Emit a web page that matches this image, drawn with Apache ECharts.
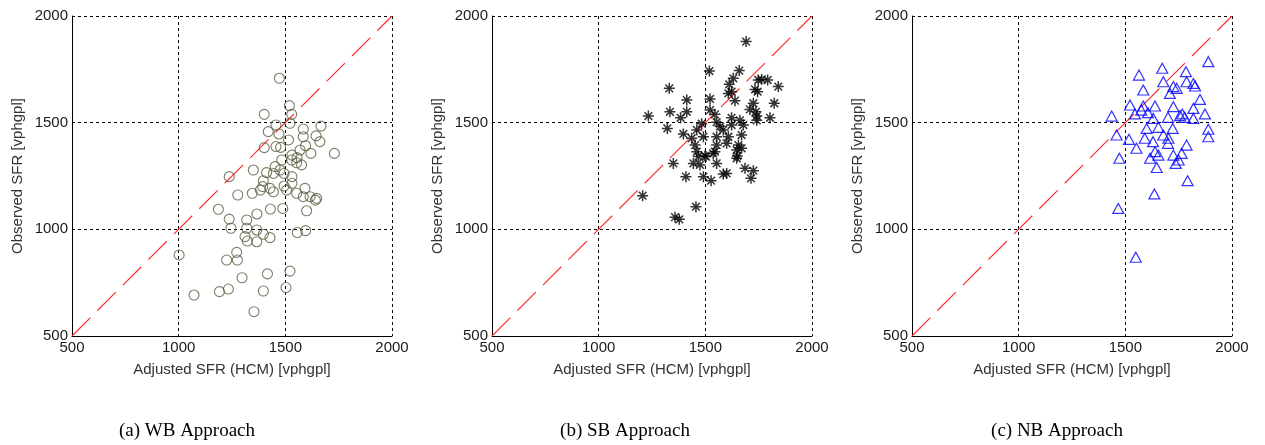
<!DOCTYPE html>
<html>
<head>
<meta charset="utf-8">
<script src="https://cdn.jsdelivr.net/npm/echarts@6/dist/echarts.min.js"></script>
<style>
  html, body { margin: 0; padding: 0; background: #fff; }
  #main { width: 1265px; height: 445px; }
</style>
</head>
<body>
<div id="main"></div>
<script>
// axis range and tick labels (same for all panels)
var axisMin = 500;
var axisMax = 2000;
var tickStep = 500;

// reference y = x line
var refLine = [[500, 500], [2000, 2000]];

var captions = ["(a) WB Approach", "(b) SB Approach", "(c) NB Approach"];

// (a) WB approach: [adjusted SFR, observed SFR]
var wbData = [
  [1472, 1708], [1519, 1580], [1401, 1539], [1530, 1539], [1522, 1497], [1456, 1489],
  [1667, 1484], [1584, 1470], [1420, 1458], [1644, 1438], [1470, 1447], [1515, 1419],
  [1662, 1411], [1401, 1383], [1456, 1388], [1478, 1384], [1584, 1434], [1595, 1392],
  [1569, 1372], [1620, 1356], [1730, 1356], [1531, 1348], [1555, 1336], [1530, 1325],
  [1553, 1312], [1483, 1325], [1576, 1302], [1452, 1294], [1350, 1278], [1475, 1278],
  [1412, 1266], [1444, 1262], [1494, 1262], [1531, 1247], [1237, 1247], [1397, 1228],
  [1531, 1216], [1394, 1200], [1428, 1192], [1494, 1203], [1592, 1192], [1345, 1169],
  [1383, 1184], [1444, 1176], [1506, 1184], [1553, 1169], [1616, 1153], [1277, 1161],
  [1647, 1145], [1584, 1153], [1641, 1137], [1186, 1094], [1237, 1048], [1245, 1005],
  [1319, 1044], [1367, 1072], [1430, 1095], [1488, 1098], [1600, 1087], [1319, 1005],
  [1366, 997], [1311, 966], [1322, 945], [1366, 942], [1397, 977], [1428, 961],
  [1556, 985], [1595, 994], [1002, 880], [1272, 892], [1225, 856], [1275, 856],
  [1522, 804], [1416, 791], [1297, 773], [1503, 727], [1233, 720], [1191, 708],
  [1397, 711], [1072, 692], [1353, 614]
];

// (b) SB approach
var sbData = [
  [1691, 1880], [1519, 1742], [1659, 1744], [1331, 1661], [1631, 1708], [1612, 1680],
  [1748, 1700], [1764, 1703], [1792, 1700], [1842, 1669], [1733, 1656], [1745, 1645],
  [1608, 1637], [1623, 1645], [1522, 1611], [1413, 1606], [1639, 1603], [1725, 1591],
  [1823, 1591], [1334, 1551], [1413, 1551], [1522, 1559], [1709, 1562], [1737, 1551],
  [1233, 1531], [1384, 1523], [1545, 1539], [1741, 1531], [1803, 1523], [1623, 1523],
  [1662, 1511], [1741, 1511], [1553, 1502], [1483, 1495], [1569, 1483], [1623, 1489],
  [1678, 1489], [1322, 1473], [1460, 1466], [1584, 1466], [1397, 1447], [1491, 1434],
  [1553, 1434], [1608, 1434], [1670, 1442], [1436, 1427], [1553, 1395], [1600, 1403],
  [1655, 1395], [1452, 1395], [1460, 1364], [1545, 1364], [1647, 1372], [1670, 1380],
  [1498, 1344], [1650, 1344], [1467, 1341], [1537, 1356], [1647, 1333], [1350, 1309],
  [1444, 1309], [1475, 1302], [1553, 1309], [1503, 1341], [1686, 1286], [1725, 1275],
  [1409, 1247], [1491, 1247], [1584, 1259], [1600, 1262], [1527, 1228], [1714, 1239],
  [1206, 1158], [1456, 1106], [1358, 1057], [1378, 1047]
];

// (c) NB approach
var nbData = [
  [1889, 1786], [1673, 1755], [1564, 1723], [1784, 1739], [1678, 1692], [1584, 1653],
  [1725, 1669], [1741, 1661], [1787, 1692], [1819, 1684], [1827, 1672], [1709, 1637],
  [1850, 1609], [1522, 1583], [1584, 1578], [1639, 1578], [1725, 1575], [1819, 1567],
  [1436, 1531], [1575, 1559], [1606, 1547], [1700, 1525], [1767, 1541], [1778, 1525],
  [1819, 1520], [1873, 1541], [1631, 1520], [1545, 1541], [1756, 1533], [1600, 1473],
  [1655, 1478], [1722, 1473], [1889, 1469], [1889, 1434], [1459, 1442], [1517, 1422],
  [1591, 1427], [1678, 1442], [1702, 1427], [1552, 1380], [1630, 1411], [1700, 1403],
  [1787, 1395], [1639, 1364], [1655, 1348], [1725, 1348], [1764, 1356], [1472, 1333],
  [1616, 1333], [1750, 1325], [1736, 1309], [1647, 1290], [1792, 1228], [1636, 1166],
  [1467, 1098], [1549, 869]
];

var panelLefts = [72, 492, 912];
var captionCenters = [187, 625, 1057];
var plotTop = 16;
var plotSize = 320;

var grids = [], xAxes = [], yAxes = [], series = [], graphics = [];

var gridLine = { show: true, lineStyle: { color: "#000", type: [3, 3], width: 1 } };
var labelFont = { fontFamily: "Liberation Sans, Arial", fontSize: 15, color: "#1a1a1a" };
var nameFont = { fontFamily: "Liberation Sans, Arial", fontSize: 15, color: "#333" };

function plainNumber(v) { return String(v); }

panelLefts.forEach(function (left, i) {
  grids.push({ left: left, top: plotTop, width: plotSize, height: plotSize });
  xAxes.push({
    gridIndex: i, type: "value", min: axisMin, max: axisMax, interval: tickStep,
    name: "Adjusted SFR (HCM) [vphgpl]", nameLocation: "middle", nameGap: 26,
    nameTextStyle: nameFont,
    axisLine: { onZero: false, lineStyle: { color: "#000", width: 1 } },
    axisTick: { show: false },
    axisLabel: Object.assign({ margin: 4, formatter: plainNumber }, labelFont),
    splitLine: gridLine
  });
  yAxes.push({
    gridIndex: i, type: "value", min: axisMin, max: axisMax, interval: tickStep,
    name: "Observed SFR [vphgpl]", nameLocation: "middle", nameGap: 47,
    nameTextStyle: nameFont,
    axisLine: { onZero: false, lineStyle: { color: "#000", width: 1 } },
    axisTick: { show: false },
    axisLabel: Object.assign({ margin: 4, formatter: plainNumber }, labelFont),
    splitLine: gridLine
  });
  series.push({
    type: "line", xAxisIndex: i, yAxisIndex: i, data: refLine,
    symbol: "none", z: 3, color: "#ff3030",
    emphasis: { disabled: true },
    lineStyle: { color: "#ff3030", width: 1.2, opacity: 1, type: [26, 10] }
  });
  graphics.push({
    type: "text", x: captionCenters[i], y: 431,
    style: {
      text: captions[i], textAlign: "center", textVerticalAlign: "middle",
      font: "19px 'Liberation Serif', 'Times New Roman', serif", fill: "#000"
    }
  });
});

series.push({
  type: "scatter", xAxisIndex: 0, yAxisIndex: 0, data: wbData,
  symbol: "circle", symbolSize: 10, z: 4,
  itemStyle: { color: "rgba(0,0,0,0)", borderColor: "#5c5c40", borderWidth: 1.1 }
});
series.push({
  type: "scatter", xAxisIndex: 1, yAxisIndex: 1, data: sbData,
  symbol: "path://M0,-5L0,5M-5,0L5,0M-3.5,-3.5L3.5,3.5M-3.5,3.5L3.5,-3.5",
  symbolSize: 11, z: 4,
  itemStyle: { color: "none", borderColor: "#000", borderWidth: 1.5 }
});
series.push({
  type: "scatter", xAxisIndex: 2, yAxisIndex: 2, data: nbData,
  symbol: "triangle", symbolSize: [11, 10], z: 4,
  itemStyle: { color: "rgba(0,0,0,0)", borderColor: "#0000ff", borderWidth: 1.2 }
});

var chart = echarts.init(document.getElementById("main"));
chart.setOption({
  animation: false,
  backgroundColor: "#fff",
  grid: grids,
  xAxis: xAxes,
  yAxis: yAxes,
  series: series,
  graphic: graphics
});
</script>
</body>
</html>
